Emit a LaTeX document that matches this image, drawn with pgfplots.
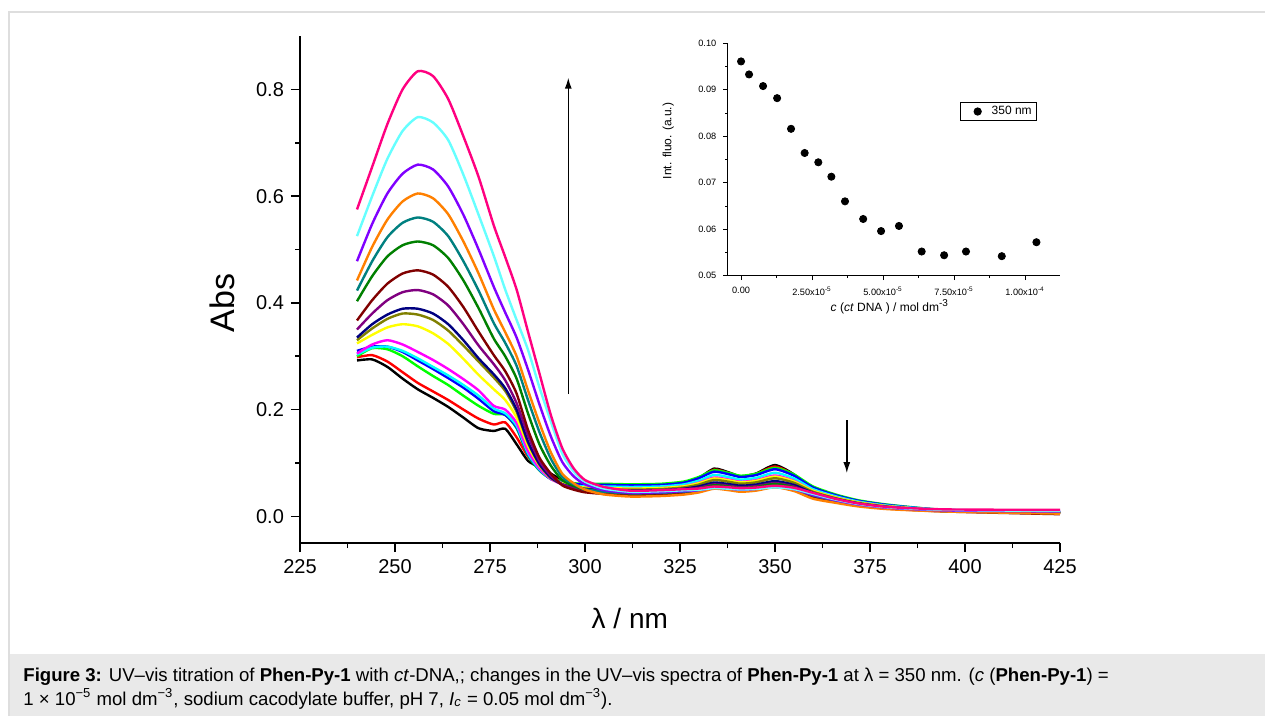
\documentclass[border=0pt]{standalone}
\usepackage{pgfplots}
\pgfplotsset{compat=1.18}
\usepackage{pgfplotstable}
\usepackage{fontspec}
\setmainfont{Liberation Sans}
\usetikzlibrary{arrows.meta}

\definecolor{o1}{HTML}{000000}
\definecolor{o2}{HTML}{FF0000}
\definecolor{o3}{HTML}{00FF00}
\definecolor{o4}{HTML}{0000FF}
\definecolor{o5}{HTML}{00FFFF}
\definecolor{o6}{HTML}{FF00FF}
\definecolor{o7}{HTML}{FFFF00}
\definecolor{o8}{HTML}{808000}
\definecolor{o9}{HTML}{000080}
\definecolor{o10}{HTML}{800080}
\definecolor{o11}{HTML}{800000}
\definecolor{o12}{HTML}{008000}
\definecolor{o13}{HTML}{008080}
\definecolor{o14}{HTML}{FF8000}
\definecolor{o15}{HTML}{8000FF}
\definecolor{o16}{HTML}{66FFFF}
\definecolor{o17}{HTML}{FF0080}
\definecolor{capbg}{HTML}{E9E9E9}
\definecolor{frame}{HTML}{DEDEDE}

\pgfplotstableread{
nm  c1 c2 c3 c4 c5 c6 c7 c8 c9 c10 c11 c12 c13 c14 c15 c16 c17
240 .292 .298 .300 .310 .303 .305 .324 .330 .335 .350 .367 .403 .423 .442 .478 .525 .575
244 .294 .302 .315 .318 .316 .322 .340 .352 .360 .380 .405 .450 .478 .505 .548 .600 .655
248 .280 .290 .313 .318 .318 .330 .354 .370 .378 .405 .436 .487 .523 .556 .605 .670 .735
252 .258 .270 .300 .308 .310 .322 .360 .380 .389 .420 .455 .508 .550 .590 .642 .722 .800
256 .238 .250 .281 .292 .296 .308 .356 .378 .389 .424 .461 .515 .560 .605 .659 .748 .834
260 .222 .234 .263 .276 .280 .293 .343 .368 .380 .416 .453 .508 .552 .596 .650 .738 .825
264 .205 .218 .246 .259 .264 .276 .323 .348 .360 .395 .430 .484 .525 .566 .618 .705 .782
268 .185 .200 .226 .241 .246 .257 .295 .320 .330 .360 .392 .442 .478 .515 .565 .640 .712
272 .165 .183 .207 .220 .226 .236 .265 .290 .296 .320 .346 .390 .423 .455 .500 .565 .636
276 .160 .172 .192 .197 .202 .207 .238 .260 .266 .285 .302 .333 .362 .388 .430 .488 .545
279 .164 .176 .190 .190 .193 .200 .218 .235 .240 .255 .272 .300 .325 .345 .382 .425 .486
282 .135 .148 .165 .167 .170 .175 .185 .196 .200 .212 .230 .258 .282 .300 .335 .368 .425
285 .104 .112 .114 .116 .118 .122 .132 .138 .140 .152 .162 .193 .218 .236 .275 .312 .346
288 .092 .094 .086 .087 .088 .090 .095 .097 .098 .104 .110 .135 .158 .175 .210 .242 .268
291 .080 .078 .070 .070 .070 .070 .072 .072 .073 .076 .080 .095 .108 .120 .150 .178 .190
294 .068 .062 .066 .064 .062 .060 .062 .060 .060 .060 .058 .068 .074 .080 .102 .118 .128
297 .060 .058 .062 .061 .058 .056 .056 .055 .054 .053 .050 .057 .060 .062 .075 .084 .090
300 .055 .056 .061 .059 .056 .054 .054 .052 .051 .049 .045 .050 .051 .050 .060 .065 .068
305 .053 .055 .061 .059 .056 .053 .053 .051 .049 .047 .042 .047 .046 .041 .049 .052 .055
312 .052 .054 .060 .058 .055 .052 .052 .050 .048 .046 .040 .045 .043 .037 .044 .046 .048
320 .053 .055 .061 .059 .056 .053 .053 .051 .049 .047 .041 .046 .044 .038 .045 .047 .049
326 .0584 .0599 .0651 .0630 .0597 .0564 .0562 .0541 .0518 .0496 .0440 .0486 .0462 .0407 .0471 .0488 .0509
330 .0718 .0717 .0739 .0716 .0670 .0630 .0621 .0596 .0561 .0533 .0488 .0521 .0485 .0448 .0490 .0497 .0521
334 .0894 .0874 .0862 .0837 .0776 .0727 .0710 .0681 .0633 .0598 .0567 .0583 .0534 .0518 .0535 .0530 .0558
338 .0819 .0807 .0809 .0785 .0731 .0686 .0672 .0645 .0602 .0570 .0533 .0557 .0513 .0488 .0516 .0516 .0543
341 .0749 .0744 .0760 .0737 .0688 .0647 .0636 .0611 .0574 .0544 .0502 .0532 .0493 .0460 .0498 .0503 .0528
345 .0802 .0792 .0797 .0773 .0720 .0676 .0663 .0636 .0595 .0564 .0525 .0550 .0508 .0481 .0512 .0512 .0539
350 .0960 .0933 .0908 .0882 .0816 .0764 .0744 .0713 .0660 .0622 .0596 .0607 .0552 .0544 .0552 .0542 .0572
355 .0784 .0776 .0785 .0761 .0710 .0666 .0654 .0628 .0588 .0557 .0518 .0544 .0503 .0474 .0507 .0509 .0535
360 .048 .050 .056 .054 .051 .048 .048 .046 .044 .042 .036 .041 .039 .033 .040 .042 .044
366 .0354 .0367 .0408 .0394 .0374 .0354 .0354 .0340 .0326 .0313 .0272 .0306 .0292 .0252 .0299 .0313 .0326
372 .026 .027 .030 .029 .0275 .026 .026 .025 .024 .023 .020 .0225 .0215 .0185 .022 .023 .024
380 .0187 .0194 .0216 .0209 .0198 .0187 .0187 .018 .0173 .0166 .0144 .0162 .0155 .0133 .0158 .0166 .0173
395 .011 .011 .012 .012 .012 .011 .011 .011 .011 .011 .009 .010 .010 .009 .011 .012 .013
425 .006 .005 .007 .008 .008 .007 .006 .006 .006 .007 .004 .006 .007 .005 .009 .010 .012
}\spectra

\pgfplotstableread{
c        A
0        0.0961
2.82e-6  0.0933
7.75e-6  0.0908
12.7e-6  0.0882
17.6e-6  0.0816
22.4e-6  0.0764
27.2e-6  0.0744
31.8e-6  0.0713
36.6e-6  0.0660
43.0e-6  0.0622
49.3e-6  0.0596
55.6e-6  0.0607
63.6e-6  0.0552
71.5e-6  0.0544
79.2e-6  0.0552
91.8e-6  0.0542
104.0e-6 0.0572
}\inset

\begin{document}
\begin{tikzpicture}
\path[use as bounding box, fill=white] (0pt,0pt) rectangle (632.5pt,-358pt);
\fill[capbg] (4.5pt,-327pt) rectangle (632.5pt,-358pt);
\draw[frame, line width=0.8pt] (4.5pt,-358pt) -- (4.5pt,-6pt) -- (632.5pt,-6pt);

\begin{axis}[
  at={(150pt,-271.5pt)}, anchor=south west,
  scale only axis, width=380pt, height=253.5pt,
  xmin=225, xmax=425, ymin=-0.05, ymax=0.9,
  axis x line*=bottom, axis y line*=left,
  axis line style={line width=1pt},
  tick align=outside,
  major tick length=4.5pt, minor tick length=2.5pt,
  every tick/.style={black, line width=0.8pt},
  xtick={225,250,275,300,325,350,375,400,425}, minor x tick num=1,
  ytick={0,0.2,0.4,0.6,0.8}, minor y tick num=1,
  /pgf/number format/assume math mode=true,
  tick label style={font=\fontsize{10}{12}\selectfont},
  yticklabel style={/pgf/number format/.cd, fixed, fixed zerofill, precision=1},
  xlabel={λ / nm}, ylabel={Abs},
  x label style={font=\fontsize{14}{16}\selectfont, at={(axis description cs:0.434,-0.148)}, anchor=center},
  y label style={font=\fontsize{17}{19}\selectfont, at={(axis description cs:-0.1026,0.473)}, anchor=center},
  every axis plot/.append style={line width=1.2pt, smooth, tension=0.4},
  clip=false,
]
\addplot[o1]  table[x=nm,y=c1]  {\spectra};
\addplot[o2]  table[x=nm,y=c2]  {\spectra};
\addplot[o3]  table[x=nm,y=c3]  {\spectra};
\addplot[o4]  table[x=nm,y=c4]  {\spectra};
\addplot[o5]  table[x=nm,y=c5]  {\spectra};
\addplot[o6]  table[x=nm,y=c6]  {\spectra};
\addplot[o7]  table[x=nm,y=c7]  {\spectra};
\addplot[o8]  table[x=nm,y=c8]  {\spectra};
\addplot[o9]  table[x=nm,y=c9]  {\spectra};
\addplot[o10] table[x=nm,y=c10] {\spectra};
\addplot[o11] table[x=nm,y=c11] {\spectra};
\addplot[o12] table[x=nm,y=c12] {\spectra};
\addplot[o13] table[x=nm,y=c13] {\spectra};
\addplot[o14] table[x=nm,y=c14] {\spectra};
\addplot[o15] table[x=nm,y=c15] {\spectra};
\addplot[o16] table[x=nm,y=c16] {\spectra};
\addplot[o17] table[x=nm,y=c17] {\spectra};
\draw[line width=0.7pt, -{Latex[length=5.5pt,width=3.5pt]}] (axis cs:295.6,0.229) -- (axis cs:295.6,0.822);
\draw[line width=0.7pt, -{Latex[length=5.5pt,width=3.5pt]}] (axis cs:368.9,0.180) -- (axis cs:368.9,0.081);
\end{axis}

\begin{axis}[
  at={(363.85pt,-137.85pt)}, anchor=south west,
  scale only axis, width=166.15pt, height=116.2pt,
  xmin=-4.7e-6, xmax=1.123e-4, ymin=0.05, ymax=0.1,
  axis x line*=bottom, axis y line*=left,
  axis line style={line width=0.5pt},
  tick align=outside,
  major tick length=2.2pt, minor tick length=1.2pt,
  every tick/.style={black, line width=0.4pt},
  xtick={0,2.5e-5,5e-5,7.5e-5,1e-4},
  xticklabels={0.00, {2.50x10\textsuperscript{-5}}, {5.00x10\textsuperscript{-5}}, {7.50x10\textsuperscript{-5}}, {1.00x10\textsuperscript{-4}}},
  scaled x ticks=false, scaled y ticks=false,
  minor x tick num=1,
  ytick={0.05,0.06,0.07,0.08,0.09,0.10}, minor y tick num=1,
  /pgf/number format/assume math mode=true,
  tick label style={font=\fontsize{4.6}{5.5}\selectfont},
  yticklabel style={/pgf/number format/.cd, fixed, fixed zerofill, precision=2},
  xlabel={\textit{c} (\textit{ct} DNA ) / mol dm\textsuperscript{-3}},
  ylabel={Int. fluo. (a.u.)},
  x label style={font=\fontsize{6}{7}\selectfont, at={(axis description cs:0.488,-0.133)}, anchor=center},
  y label style={font=\fontsize{6}{7}\selectfont, at={(axis description cs:-0.179,0.58)}, anchor=center},
  legend style={at={(0.699,0.746)}, anchor=north west, draw=black, line width=0.5pt,
    font=\fontsize{6}{7}\selectfont, inner sep=0.6pt, row sep=0pt,
    nodes={inner ysep=0.9pt}},
  legend image code/.code={\path[draw=none,fill=none] (-8pt,0pt) -- (5pt,0pt); \fill[black] (0pt,0pt) circle (1.8pt);},
  legend cell align=left,
  clip=false,
]
\addplot[only marks, mark=*, mark size=1.8pt, black] table[x=c,y=A] {\inset};
\addlegendentry{350 nm}
\end{axis}

\node[anchor=base west, font=\fontsize{9.3}{11}\selectfont, inner sep=0pt] at (11.5pt,-341pt)
  {\textbf{Figure 3:} UV–vis titration of \textbf{Phen-Py-1} with \textit{ct}-DNA,; changes in the UV–vis spectra of \textbf{Phen-Py-1} at λ = 350 nm. (\textit{c} (\textbf{Phen-Py-1}) =};
\node[anchor=base west, font=\fontsize{9.3}{11}\selectfont, inner sep=0pt] at (11.5pt,-352.5pt)
  {1 × 10\textsuperscript{−5} mol dm\textsuperscript{−3}, sodium cacodylate buffer, pH 7, \textit{I}\textsubscript{\textit{c}} = 0.05 mol dm\textsuperscript{−3}).};
\end{tikzpicture}
\end{document}
